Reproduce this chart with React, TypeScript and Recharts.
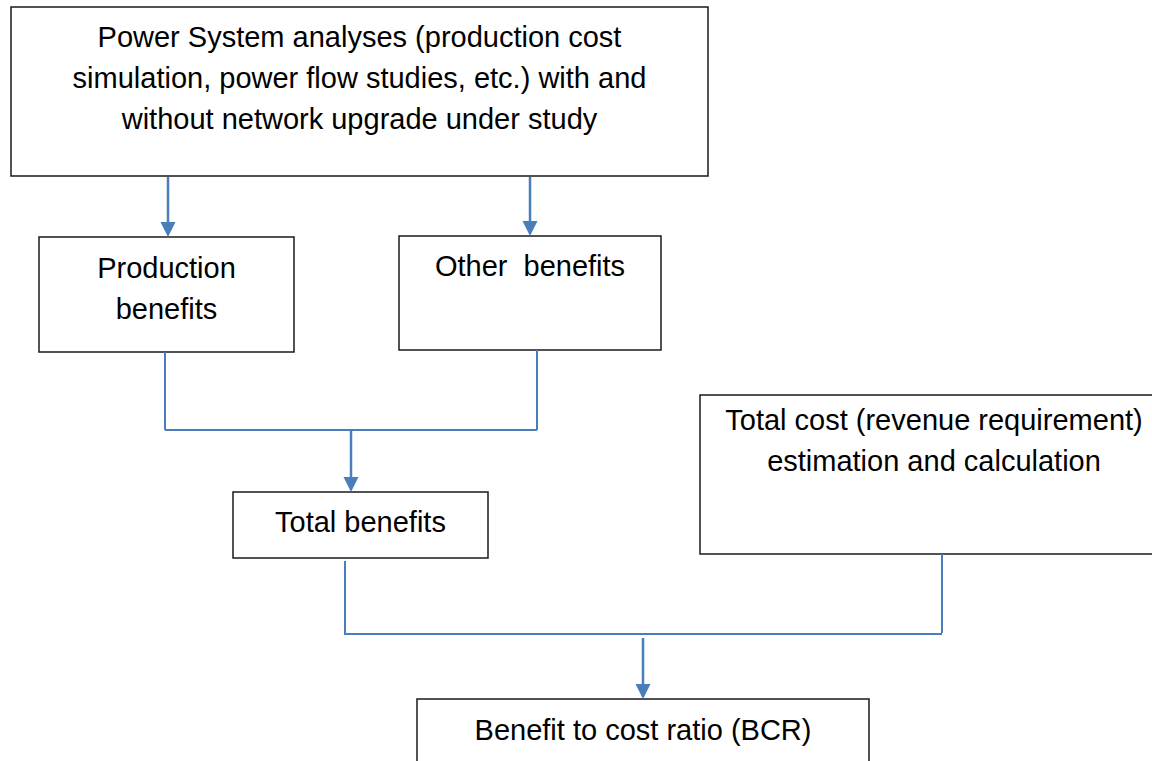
import {
  ComposedChart,
  XAxis,
  YAxis,
  ReferenceArea,
  ReferenceLine,
  Scatter,
} from "recharts";

// diagram coordinates (x: 0..1152 left→right, y: 0..761 top→bottom)
const boxes = [
  { id: "analyses", x1: 11, x2: 708, y1: 7, y2: 176, firstLine: 47 },
  { id: "production", x1: 39, x2: 294, y1: 237, y2: 352, firstLine: 278 },
  { id: "other", x1: 399, x2: 661, y1: 236, y2: 350, firstLine: 276 },
  { id: "totalBenefits", x1: 233, x2: 488, y1: 492, y2: 558, firstLine: 532 },
  { id: "totalCost", x1: 700, x2: 1168, y1: 395, y2: 554, firstLine: 430 },
  { id: "bcr", x1: 417, x2: 869, y1: 699, y2: 800, firstLine: 740 },
];

const boxText: Record<string, string[]> = {
  analyses: [
    "Power System analyses (production cost",
    "simulation, power flow studies, etc.) with and",
    "without network upgrade under study",
  ],
  production: ["Production", "benefits"],
  other: ["Other  benefits"],
  totalBenefits: ["Total benefits"],
  totalCost: ["Total cost (revenue requirement)", "estimation and calculation"],
  bcr: ["Benefit to cost ratio (BCR)"],
};

// arrows: vertical shaft from y1 down to tip y2
const arrows = [
  { x: 168, y1: 177, y2: 237 },
  { x: 530, y1: 177, y2: 236 },
  { x: 351, y1: 431, y2: 492 },
  { x: 643, y1: 638, y2: 699 },
];

// plain connector segments (no heads)
const connectors = [
  { x1: 165, y1: 352, x2: 165, y2: 430 },
  { x1: 537, y1: 350, x2: 537, y2: 430 },
  { x1: 165, y1: 430, x2: 537, y2: 430 },
  { x1: 345, y1: 561, x2: 345, y2: 635 },
  { x1: 942, y1: 554, x2: 942, y2: 633 },
  { x1: 345, y1: 634, x2: 942, y2: 634 },
];

const LINE_GAP = 41;
const BLUE = "#4A7EBB";

const textRows = boxes.flatMap((b) =>
  boxText[b.id].map((t, i) => ({
    x: (b.x1 + b.x2) / 2,
    y: b.firstLine + i * LINE_GAP,
    text: t,
  }))
);

const arrowTips = arrows.map((a) => ({ x: a.x, y: a.y2 }));

const TextShape = (props: any) => {
  const { cx, cy, payload } = props;
  return (
    <text
      x={cx}
      y={cy}
      textAnchor="middle"
      fontFamily="'Liberation Sans', Arial, sans-serif"
      fontSize={29}
      fill="#000"
      style={{ whiteSpace: "pre" }}
    >
      {payload.text}
    </text>
  );
};

const ArrowHead = (props: any) => {
  const { cx, cy } = props;
  return (
    <polygon
      points={`${cx - 7.5},${cy - 15} ${cx + 7.5},${cy - 15} ${cx},${cy}`}
      fill={BLUE}
    />
  );
};

export default function App() {
  return (
    <div style={{ position: "absolute", left: 0, top: 0, background: "#fff" }}>
      <ComposedChart
        width={1152}
        height={761}
        margin={{ top: 0, right: 0, bottom: 0, left: 0 }}
      >
        <XAxis
          type="number"
          dataKey="x"
          domain={[0, 1152]}
          allowDataOverflow
          hide
        />
        <YAxis
          type="number"
          dataKey="y"
          domain={[0, 761]}
          reversed
          allowDataOverflow
          hide
        />
        {boxes.map((b) => (
          <ReferenceArea
            key={b.id}
            x1={b.x1}
            x2={b.x2}
            y1={b.y1}
            y2={b.y2}
            ifOverflow="visible"
            fill="#fff"
            fillOpacity={1}
            stroke="#1a1a1a"
            strokeWidth={1.5}
          />
        ))}
        {connectors.map((c, i) => (
          <ReferenceLine
            key={"c" + i}
            segment={[
              { x: c.x1, y: c.y1 },
              { x: c.x2, y: c.y2 },
            ]}
            ifOverflow="visible"
            stroke={BLUE}
            strokeWidth={2}
          />
        ))}
        {arrows.map((a, i) => (
          <ReferenceLine
            key={"a" + i}
            segment={[
              { x: a.x, y: a.y1 },
              { x: a.x, y: a.y2 - 12 },
            ]}
            ifOverflow="visible"
            stroke={BLUE}
            strokeWidth={2.5}
          />
        ))}
        <Scatter
          data={arrowTips}
          shape={ArrowHead}
          isAnimationActive={false}
          legendType="none"
        />
        <Scatter
          data={textRows}
          shape={TextShape}
          isAnimationActive={false}
          legendType="none"
        />
      </ComposedChart>
    </div>
  );
}
